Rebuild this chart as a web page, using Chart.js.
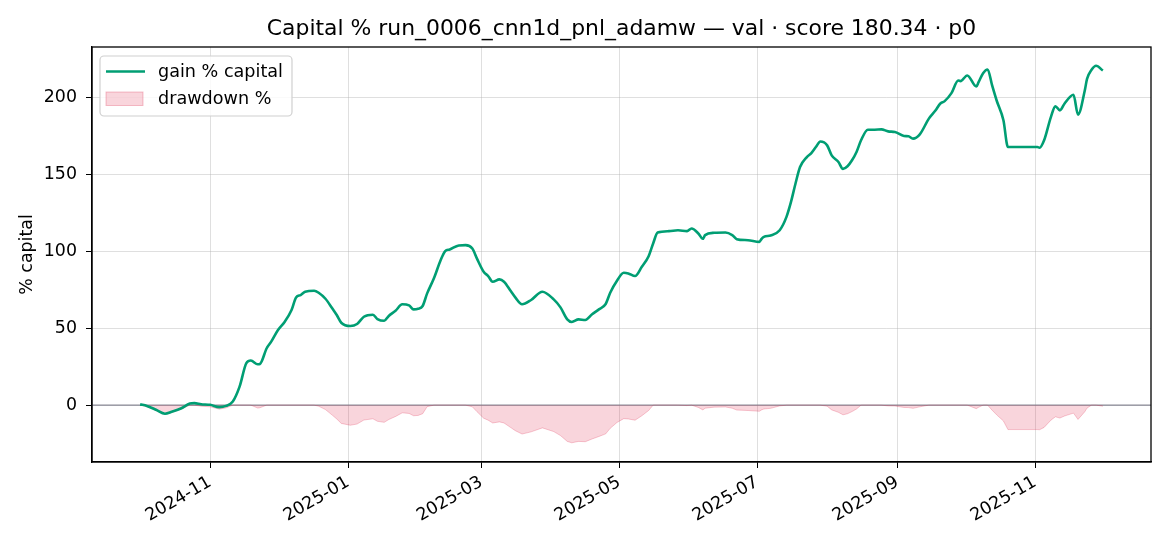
<!DOCTYPE html>
<html lang="en">
<head>
    <meta charset="UTF-8">
    <title>Capital %</title>
    <script src="https://cdn.jsdelivr.net/npm/chart.js"></script>
    <style>
        body { margin: 0; background: #fff; }
        #chart { display: block; }
    </style>
</head>
<body>
    <canvas id="chart" width="1170" height="546"></canvas>

    <script>
        // gain % capital
        const gainDates = [
            '2024-10-01','2024-10-04','2024-10-08','2024-10-12','2024-10-15','2024-10-19','2024-10-23','2024-10-25',
            '2024-10-28','2024-11-01','2024-11-05','2024-11-08','2024-11-11','2024-11-14','2024-11-17','2024-11-19',
            '2024-11-22','2024-11-23','2024-11-26','2024-11-28','2024-12-01','2024-12-04','2024-12-07','2024-12-09',
            '2024-12-11','2024-12-13','2024-12-17','2024-12-19','2024-12-22','2024-12-25','2024-12-27','2024-12-29',
            '2025-01-02','2025-01-05','2025-01-08','2025-01-12','2025-01-14','2025-01-17','2025-01-19','2025-01-22',
            '2025-01-25','2025-01-28','2025-01-30','2025-02-01','2025-02-03','2025-02-05','2025-02-08','2025-02-11',
            '2025-02-13','2025-02-15','2025-02-19','2025-02-22','2025-02-25','2025-02-27','2025-03-02','2025-03-04',
            '2025-03-06','2025-03-09','2025-03-11','2025-03-14','2025-03-16','2025-03-19','2025-03-23','2025-03-28',
            '2025-04-02','2025-04-05','2025-04-08','2025-04-10','2025-04-13','2025-04-16','2025-04-19','2025-04-22',
            '2025-04-25','2025-04-27','2025-04-30','2025-05-03','2025-05-05','2025-05-08','2025-05-11','2025-05-14',
            '2025-05-16','2025-05-18','2025-05-23','2025-05-27','2025-05-31','2025-06-02','2025-06-05','2025-06-07',
            '2025-06-08','2025-06-12','2025-06-17','2025-06-20','2025-06-22','2025-06-27','2025-07-02','2025-07-03',
            '2025-07-04','2025-07-07','2025-07-11','2025-07-14','2025-07-16','2025-07-18','2025-07-20','2025-07-23',
            '2025-07-25','2025-07-27','2025-07-29','2025-08-01','2025-08-03','2025-08-06','2025-08-08','2025-08-10',
            '2025-08-12','2025-08-14','2025-08-16','2025-08-19','2025-08-22','2025-08-25','2025-08-28','2025-08-31',
            '2025-09-04','2025-09-06','2025-09-08','2025-09-11','2025-09-15','2025-09-18','2025-09-20','2025-09-22',
            '2025-09-25','2025-09-28','2025-09-29','2025-10-02','2025-10-06','2025-10-07','2025-10-09','2025-10-11',
            '2025-10-13','2025-10-15','2025-10-18','2025-10-20','2025-11-02','2025-11-03','2025-11-05','2025-11-08',
            '2025-11-10','2025-11-12','2025-11-14','2025-11-18','2025-11-20','2025-11-23','2025-11-24','2025-11-26',
            '2025-11-28','2025-12-01'
        ];
        const gainValues = [
            0.5, -0.5, -3, -5.6, -4.3, -2.2, 1.0, 1.3,
            0.6, 0.2, -1.3, -0.5, 2.3, 12, 27.3, 29,
            26.6, 26.8, 37, 41.3, 48.9, 54.3, 61.9, 70.1,
            71.6, 73.8, 74.4, 73.1, 69.2, 63, 58.6, 53.6,
            51.5, 52.8, 57.5, 58.8, 56, 54.9, 58, 61.4,
            65.6, 64.9, 62.3, 62.7, 64.5, 72.7, 82.5, 94.4,
            100.2, 101.3, 103.9, 104.1, 101.9, 95.5, 86.8, 84,
            80.3, 81.8, 80.3, 74.2, 70.1, 65.6, 68.4, 73.8,
            68.8, 63.6, 55.8, 54.1, 55.8, 55.4, 59.1, 62.3,
            65.8, 73.1, 80.9, 86.1, 85.7, 84, 90, 96.9,
            105.2, 112.3, 113.2, 113.8, 113.2, 114.9, 111.7, 108.2,
            110.6, 112.1, 112.3, 110.6, 108, 107.3, 106.2, 108.2,
            109.5, 110.4, 113.8, 122.5, 132.2, 144.2, 154.9, 161.4,
            164, 167.9, 171.5, 169, 162.5, 158.2, 153.7, 155.4,
            159.3, 164.7, 172.3, 179.2, 179.2, 179.4, 178.1, 177.7,
            175.1, 174.9, 173.4, 176.2, 186.4, 191.8, 196.1, 197.8,
            203, 211.2, 210.8, 214.5, 207.3, 210.1, 216, 218.4,
            208, 198.2, 185.3, 167.9, 167.9, 167.5, 172.3, 187.4,
            194.4, 191.8, 196.1, 201.9, 189, 204.7, 212.3, 218.2,
            220.8, 217.7
        ];

        // drawdown %
        const ddDates = [
            '2024-10-01','2024-10-04','2024-10-08','2024-10-12','2024-10-15','2024-10-19','2024-10-23','2024-10-25',
            '2024-10-28','2024-11-01','2024-11-05','2024-11-08','2024-11-11','2024-11-19','2024-11-22','2024-11-23',
            '2024-11-26','2024-12-17','2024-12-19','2024-12-22','2024-12-25','2024-12-27','2024-12-29','2025-01-02',
            '2025-01-05','2025-01-08','2025-01-12','2025-01-14','2025-01-17','2025-01-19','2025-01-22','2025-01-25',
            '2025-01-28','2025-01-30','2025-02-01','2025-02-03','2025-02-05','2025-02-08','2025-02-22','2025-02-25',
            '2025-02-27','2025-03-02','2025-03-04','2025-03-06','2025-03-09','2025-03-11','2025-03-14','2025-03-16',
            '2025-03-19','2025-03-23','2025-03-28','2025-04-02','2025-04-05','2025-04-08','2025-04-10','2025-04-13',
            '2025-04-16','2025-04-19','2025-04-22','2025-04-25','2025-04-27','2025-04-30','2025-05-03','2025-05-05',
            '2025-05-08','2025-05-11','2025-05-14','2025-05-16','2025-05-27','2025-05-31','2025-06-02','2025-06-05',
            '2025-06-07','2025-06-08','2025-06-12','2025-06-17','2025-06-20','2025-06-22','2025-06-27','2025-07-02',
            '2025-07-03','2025-07-04','2025-07-07','2025-07-11','2025-07-14','2025-07-29','2025-08-01','2025-08-03',
            '2025-08-06','2025-08-08','2025-08-10','2025-08-12','2025-08-14','2025-08-16','2025-08-25','2025-08-28',
            '2025-08-31','2025-09-04','2025-09-06','2025-09-08','2025-09-11','2025-09-15','2025-10-02','2025-10-06',
            '2025-10-07','2025-10-09','2025-10-11','2025-10-13','2025-10-15','2025-10-18','2025-10-20','2025-11-02',
            '2025-11-03','2025-11-05','2025-11-08','2025-11-10','2025-11-12','2025-11-14','2025-11-18','2025-11-20',
            '2025-11-23','2025-11-24','2025-11-26','2025-11-28','2025-12-01'
        ];
        const ddValues = [
            0, -1, -3.5, -6, -4.8, -2.7, 0, 0,
            -0.7, -1.1, -2.6, -1.8, 0, 0, -1.9, -1.7,
            0, 0, -0.7, -2.9, -6.5, -9, -11.9, -13.1,
            -12.3, -9.7, -8.9, -10.5, -11.2, -9.4, -7.4, -5.0,
            -5.4, -6.9, -6.7, -5.6, -1.0, 0, 0, -1.1,
            -4.2, -8.5, -9.8, -11.6, -10.9, -11.6, -14.6, -16.6,
            -18.8, -17.4, -14.8, -17.2, -19.8, -23.6, -24.5, -23.6,
            -23.8, -22, -20.4, -18.7, -15.1, -11.3, -8.8, -9,
            -9.8, -6.9, -3.5, 0, 0, -0.3, 0, -1.5,
            -3.1, -2.0, -1.3, -1.2, -2.0, -3.2, -3.5, -4.0,
            -3.1, -2.5, -2.1, -0.5, 0, 0, -0.7, -3.1,
            -4.7, -6.3, -5.6, -4.2, -2.5, 0, 0, -0.5,
            -0.6, -1.5, -1.6, -2.1, -1.1, 0, 0, -2.3,
            -1.4, 0, 0, -3.3, -6.3, -10.3, -15.9, -15.9,
            -16, -14.5, -9.8, -7.6, -8.4, -7.1, -5.2, -9.3,
            -4.3, -1.9, 0, 0, -0.7
        ];

        const tickMonths = ['2024-11-01', '2025-01-01', '2025-03-01', '2025-05-01', '2025-07-01', '2025-09-01', '2025-11-01'];
        const yTicks = [0, 50, 100, 150, 200];

        const titleText = 'Capital % run_0006_cnn1d_pnl_adamw \u2014 val \u00b7 score 180.34 \u00b7 p0';
        const FONT = '"DejaVu Sans", sans-serif';
        const GREEN = '#009E73';
        const PINK_FILL = 'rgba(220,20,60,0.18)';
        const PINK_EDGE = 'rgba(220,20,60,0.22)';

        function toDay(s) {
            return Date.parse(s + 'T00:00:00Z') / 86400000;
        }
        function dayLabel(v) {
            const d = new Date(v * 86400000);
            return d.getUTCFullYear() + '-' + String(d.getUTCMonth() + 1).padStart(2, '0');
        }

        const gainPoints = gainDates.map((d, i) => ({ x: toDay(d), y: gainValues[i] }));
        const ddPoints = ddDates.map((d, i) => ({ x: toDay(d), y: ddValues[i] }));

        // matplotlib-ish 5% margins around the data
        const xFirst = toDay(gainDates[0]);
        const xLast = toDay(gainDates[gainDates.length - 1]);
        const xPad = (xLast - xFirst) * 0.05;

        // frame, zero line, title and legend like the matplotlib figure
        const decor = {
            id: 'decor',
            beforeDatasetsDraw(chart) {
                const { ctx, chartArea, scales } = chart;
                const y0 = scales.y.getPixelForValue(0);
                ctx.save();
                ctx.strokeStyle = 'rgba(120,120,135,0.85)';
                ctx.lineWidth = 1.2;
                ctx.beginPath();
                ctx.moveTo(chartArea.left, y0);
                ctx.lineTo(chartArea.right, y0);
                ctx.stroke();
                ctx.restore();
            },
            afterDraw(chart) {
                const { ctx, chartArea } = chart;
                ctx.save();
                ctx.strokeStyle = '#000';
                ctx.lineWidth = 1.3;
                ctx.strokeRect(chartArea.left, chartArea.top, chartArea.right - chartArea.left, chartArea.bottom - chartArea.top);

                // title
                ctx.fillStyle = '#000';
                ctx.font = '21.9px ' + FONT;
                ctx.textAlign = 'center';
                ctx.textBaseline = 'middle';
                ctx.fillText(titleText, (chartArea.left + chartArea.right) / 2, 29);

                // legend box
                const bx = 100, by = 56, bw = 192, bh = 60, r = 4;
                ctx.beginPath();
                ctx.moveTo(bx + r, by);
                ctx.arcTo(bx + bw, by, bx + bw, by + bh, r);
                ctx.arcTo(bx + bw, by + bh, bx, by + bh, r);
                ctx.arcTo(bx, by + bh, bx, by, r);
                ctx.arcTo(bx, by, bx + bw, by, r);
                ctx.closePath();
                ctx.fillStyle = 'rgba(255,255,255,0.85)';
                ctx.fill();
                ctx.strokeStyle = '#d0d0d0';
                ctx.lineWidth = 1.2;
                ctx.stroke();

                ctx.strokeStyle = GREEN;
                ctx.lineWidth = 2.6;
                ctx.beginPath();
                ctx.moveTo(106, 71.5);
                ctx.lineTo(145, 71.5);
                ctx.stroke();

                ctx.fillStyle = PINK_FILL;
                ctx.fillRect(106, 92, 37, 13.5);
                ctx.strokeStyle = 'rgba(220,20,60,0.25)';
                ctx.lineWidth = 1;
                ctx.strokeRect(106, 92, 37, 13.5);

                ctx.fillStyle = '#000';
                ctx.font = '17.6px ' + FONT;
                ctx.textAlign = 'left';
                ctx.textBaseline = 'middle';
                ctx.fillText('gain % capital', 158, 72);
                ctx.fillText('drawdown %', 158, 99);
                ctx.restore();
            }
        };

        new Chart(document.getElementById('chart'), {
            type: 'line',
            data: {
                datasets: [
                    {
                        label: 'gain % capital',
                        data: gainPoints,
                        borderColor: GREEN,
                        borderWidth: 2.6,
                        pointRadius: 0,
                        fill: false,
                        cubicInterpolationMode: 'monotone'
                    },
                    {
                        label: 'drawdown %',
                        data: ddPoints,
                        borderColor: PINK_EDGE,
                        backgroundColor: PINK_FILL,
                        borderWidth: 1,
                        pointRadius: 0,
                        fill: 'origin',
                        tension: 0
                    }
                ]
            },
            options: {
                responsive: false,
                animation: false,
                layout: { padding: { top: 47, right: 19, left: 0, bottom: 0 } },
                plugins: {
                    legend: { display: false },
                    title: { display: false },
                    tooltip: { enabled: false }
                },
                scales: {
                    x: {
                        type: 'linear',
                        min: xFirst - xPad,
                        max: xLast + xPad,
                        afterFit: s => { s.height = 84; },
                        afterBuildTicks: s => { s.ticks = tickMonths.map(d => ({ value: toDay(d) })); },
                        grid: { color: 'rgba(176,176,176,0.4)', lineWidth: 1, tickColor: '#000', tickLength: 6 },
                        border: { color: '#000', width: 1.3 },
                        ticks: {
                            autoSkip: false,
                            minRotation: 30,
                            maxRotation: 30,
                            padding: 4,
                            color: '#000',
                            font: { family: FONT, size: 17.4 },
                            callback: v => dayLabel(v)
                        }
                    },
                    y: {
                        min: -37,
                        max: 233,
                        afterFit: s => { s.width = 92; },
                        afterBuildTicks: s => { s.ticks = yTicks.map(v => ({ value: v })); },
                        grid: { color: 'rgba(176,176,176,0.4)', lineWidth: 1, tickColor: '#000', tickLength: 6 },
                        border: { color: '#000', width: 1.3 },
                        title: {
                            display: true,
                            text: '% capital',
                            color: '#000',
                            font: { family: FONT, size: 17.4 },
                            padding: { top: 17, bottom: 0 }
                        },
                        ticks: {
                            padding: 9,
                            color: '#000',
                            font: { family: FONT, size: 17.4 }
                        }
                    }
                }
            },
            plugins: [decor]
        });
    </script>
</body>
</html>
